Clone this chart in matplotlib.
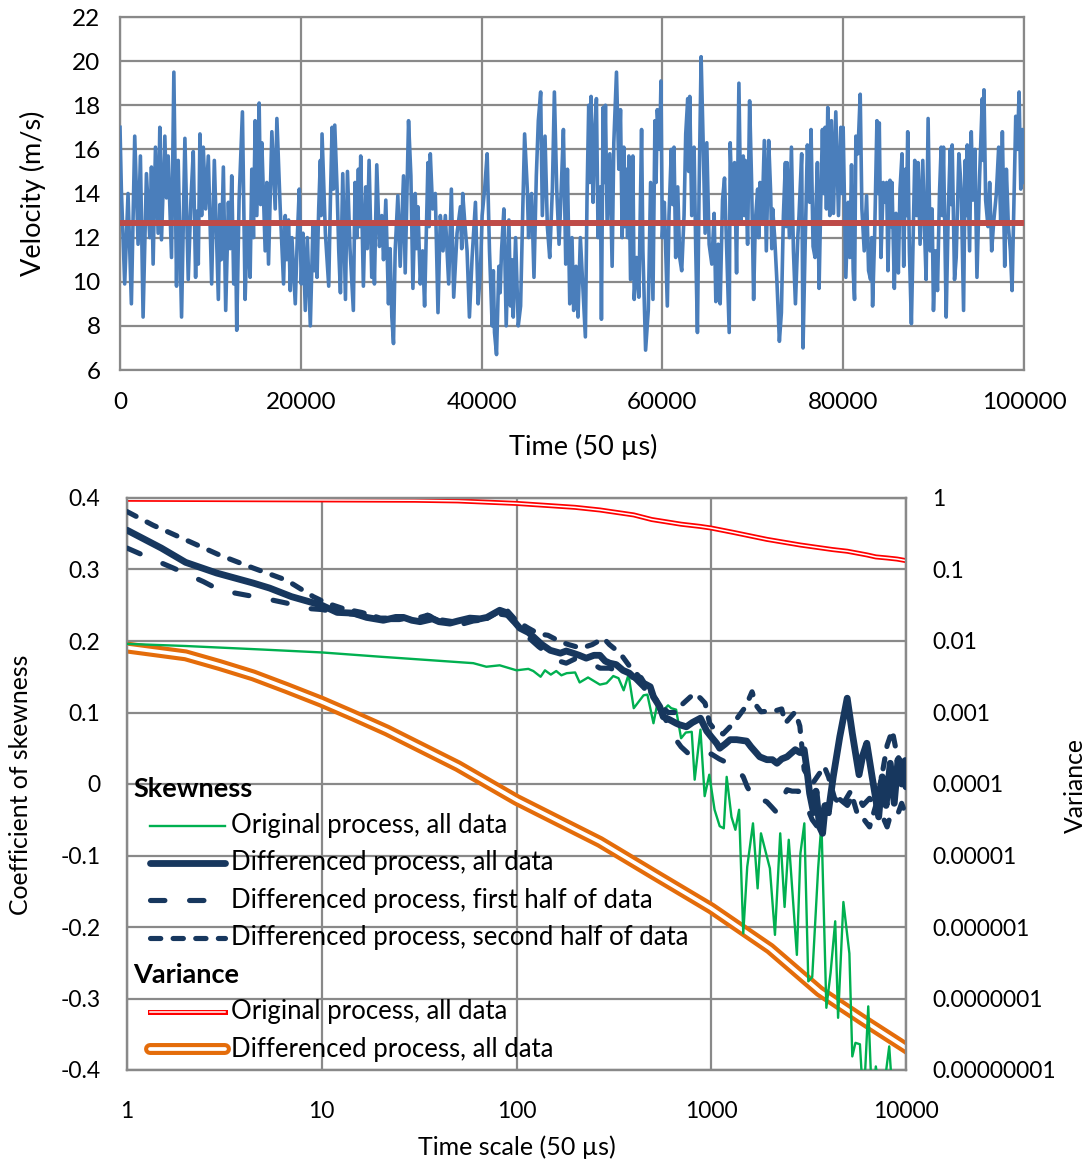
import numpy as np
import matplotlib
matplotlib.use('Agg')
import matplotlib.pyplot as plt
from matplotlib.lines import Line2D
import matplotlib.patheffects as pe

plt.rcParams['font.family'] = ['Lato', 'DejaVu Sans']

# ---------------- top chart data: (time, velocity) ----------------
velocity_q1 = [(0,17.0),(149,14.2),(519,9.9),(889,14.0),(1259,9.0),(1629,16.6),(1999,11.7),(2258,15.7),(2554,8.4),(2924,14.9),(3294,12.0),(3479,15.2),(3664,10.8),(3923,16.1),(4219,12.2),(4404,17.0),(4589,11.9),(4959,16.6),(5144,13.8),(5329,15.7),(5699,11.1),(5958,19.5),(6254,9.8),(6439,15.5),(6809,8.4),(7179,16.5),(7549,10.1),(7845,13.7),(8104,15.9),(8363,10.2),(8510,13.2),(8659,10.8),(8844,16.7),(9029,13.0),(9214,16.1),(9473,13.3),(9769,15.7),(10139,9.9),(10435,15.5),(10879,9.2),(11050,13.5),(11200,11.0),(11434,15.2),(11693,8.7),(11989,13.6),(12180,11.5),(12359,14.8),(12581,9.9),(12766,12.7),(12914,7.8),(13173,13.7),(13543,17.7),(13839,9.2),(14098,12.7),(14394,10.2),(14579,15.1),(14764,12.0),(14949,17.3),(15134,13.0),(15393,18.1),(15550,13.5),(15689,16.3),(16059,11.4),(16244,14.5),(16429,10.8),(16799,16.8),(17169,13.3),(17354,17.4),(17724,13.3),(18094,9.9),(18279,13.0),(18450,11.0),(18650,12.8),(18834,9.6),(19019,12.0),(19389,9.0),(19611,12.0),(19833,14.2),(20055,9.9),(20240,12.2),(20499,8.7),(20721,12.0),(21054,8.0),(21350,12.7),(21500,10.5),(21650,12.5),(21794,10.2),(21979,13.3),(22164,15.5),(22250,13.0),(22349,16.7),(22719,12.2),(23089,9.8),(23274,13.7),(23459,17.0),(23607,14.2),(23755,17.1),(24014,14.2),(24199,11.4),(24384,9.5),(24643,14.9),(24939,9.2),(25161,15.0)]
velocity_q2 = [(25444,11.5),(25814,8.7),(25999,14.5),(26184,12.0),(26369,15.1),(26500,12.5),(26628,15.7),(26924,9.8),(27183,14.3),(27350,11.5),(27553,15.5),(27849,10.2),(28000,12.5),(28145,9.9),(28404,15.3),(28700,11.6),(28959,13.0),(29150,11.0),(29403,13.7),(29699,9.0),(29880,11.5),(30069,8.4),(30254,7.2),(30439,11.4),(30735,13.9),(30994,10.7),(31364,14.8),(31549,10.4),(31919,17.3),(32178,14.8),(32400,9.7),(32659,14.0),(32800,11.5),(32955,13.4),(33214,9.9),(33473,11.4),(33695,8.9),(34065,15.4),(34200,12.5),(34324,15.8),(34583,13.3),(34879,14.0),(35175,8.6),(35434,13.0),(35730,11.4),(35989,13.0),(36359,9.9),(36655,14.2),(36914,9.3),(37284,12.2),(37654,13.4),(37800,11.5),(37913,14.0),(38135,12.7),(38394,11.4),(38653,8.4),(38949,11.1),(39319,13.6),(39615,9.0),(39874,10.5),(40059,13.0),(40355,14.3),(40614,15.8),(40873,11.4),(41169,8.0),(41300,10.5),(41428,7.7),(41650,6.7),(41909,10.7),(42050,9.5),(42205,11.4),(42464,13.3),(42723,8.0),(43019,12.8),(43204,8.9),(43350,11.0),(43500,8.4),(43759,12.0),(44055,8.0),(44314,8.9),(44573,13.6),(44758,16.7),(45054,14.2),(45200,12.0),(45350,13.7),(45535,14.0),(45794,10.2),(46053,14.8),(46275,17.3),(46534,18.6),(46719,13.0),(47015,16.6),(47274,12.5),(47533,11.1),(47829,14.2),(48051,18.6),(48310,14.2),(48569,11.7),(48791,14.0),(49050,16.9),(49309,10.8),(49494,15.1),(49753,9.0)]
velocity_q3 = [(50000,12.0),(50185,8.7),(50444,10.7),(50666,8.4),(50925,12.0),(51184,9.9),(51480,7.5),(51665,13.9),(51850,18.0),(51980,14.5),(52109,18.4),(52331,13.6),(52516,16.7),(52701,18.3),(52886,12.0),(53145,14.3),(53256,8.3),(53441,17.9),(53570,14.5),(53700,18.0),(53885,12.7),(54181,15.8),(54440,10.7),(54625,16.3),(54921,19.5),(55180,15.1),(55365,17.8),(55550,12.0),(55735,16.1),(55850,12.5),(55994,15.1),(56150,12.0),(56290,15.7),(56475,10.1),(56734,15.7),(56882,9.2),(57141,11.1),(57400,9.3),(57696,16.9),(57844,11.4),(58140,6.9),(58436,8.7),(58695,14.5),(58954,9.2),(59176,17.3),(59300,14.5),(59435,17.8),(59694,16.0),(59842,19.1),(59990,12.0),(60212,13.6),(60545,8.9),(60730,13.0),(60989,16.0),(61140,13.5),(61285,16.1),(61470,11.1),(61692,14.3),(61914,11.1),(62136,10.5),(62395,13.0),(62580,16.7),(62802,18.3),(62910,15.0),(63024,18.4),(63246,13.0),(63505,16.1),(63690,11.4),(63875,7.7),(64060,14.2),(64282,20.2),(64504,16.4),(64726,12.2),(64911,16.3),(65170,11.7),(65466,10.8),(65725,13.1),(65910,9.1),(66169,11.7),(66391,9.0),(66650,13.7),(66872,14.7),(67094,11.7),(67390,7.7),(67501,16.3),(67760,12.7),(67982,15.4),(68204,10.4),(68463,19.0),(68685,12.7),(68944,15.7),(69050,13.0),(69166,15.5),(69425,11.7),(69647,18.2),(69869,14.5),(70091,9.2),(70276,12.7),(70535,14.2),(70650,12.0),(70794,14.5),(71016,12.7),(71275,16.4),(71497,11.4),(71756,16.4),(71978,14.0),(72100,11.5),(72200,13.3),(72422,12.0),(72681,9.9),(72940,7.3),(73162,8.6),(73384,13.0),(73606,15.4),(73700,12.5),(73791,15.4),(74050,12.0),(74272,16.1),(74494,11.4),(74716,9.0),(74975,12.0)]
velocity_q4 = [(75111,13.0),(75407,15.8),(75555,7.0),(75777,11.4),(76036,16.2),(76295,13.6),(76443,16.9),(76665,11.6),(76887,11.1),(77000,13.5),(77146,15.4),(77331,9.7),(77516,13.6),(77701,16.9),(77850,14.0),(77997,17.0),(78145,13.3),(78293,17.9),(78515,13.0),(78700,17.3),(78922,13.1),(79181,17.7),(79477,13.0),(79736,17.0),(79860,14.0),(79995,17.0),(80291,10.2),(80550,13.6),(80735,11.1),(80920,15.3),(81105,10.5),(81253,9.2),(81401,16.6),(81623,15.8),(81882,18.5),(82067,13.3),(82326,11.4),(82585,13.9),(82807,10.5),(83029,10.1),(83150,12.0),(83251,8.9),(83473,12.0),(83732,17.3),(83860,14.0),(83991,17.2),(84176,11.1),(84435,14.5),(84657,13.6),(84805,14.5),(84953,10.5),(85175,14.6),(85300,12.5),(85397,14.5),(85656,9.7),(85841,13.1),(86100,10.4),(86285,14.2),(86507,15.8),(86692,10.7),(86877,15.1),(87000,13.0),(87136,16.8),(87321,11.4),(87543,8.1),(87691,11.0),(87913,15.5),(88135,13.0),(88283,15.4),(88505,11.7),(88801,15.5),(89023,12.0),(89171,10.1),(89393,17.4),(89615,11.4),(89837,13.3),(89985,8.7),(90207,11.4),(90429,9.6),(90651,14.0),(90836,16.1),(90960,13.0),(91095,16.1),(91391,8.4),(91613,13.0),(91835,16.0),(91950,13.5),(92057,16.2),(92316,10.1),(92501,11.1),(92797,15.8),(93056,14.2),(93315,8.7),(93500,15.5),(93600,13.0),(93722,16.2),(93981,11.4),(94166,16.8),(94351,13.7),(94573,16.0),(94795,10.2),(95091,14.8),(95387,18.3),(95480,15.5),(95572,18.7),(95757,13.7),(96016,12.5),(96201,14.5),(96423,11.4),(96645,12.7),(96941,14.0),(97200,16.1),(97422,12.7),(97607,16.8),(97866,10.7),(98051,15.1),(98273,12.5),(98495,11.4),(98680,9.6),(98902,14.0),(99087,17.5),(99272,16.0),(99457,18.6),(99642,14.2),(99827,16.9),(100000,14.5)]
mean_velocity = 12.65

top_xticks = [0, 20000, 40000, 60000, 80000, 100000]
top_yticks = [6, 8, 10, 12, 14, 16, 18, 20, 22]

# ---------------- bottom chart data: (time scale, value) ----------------
skew_original = [(1,0.196),(2,0.193),(5,0.188),(10,0.184),(20,0.178),(47,0.171),(60,0.169),(70,0.164),(82,0.166),(100,0.159),(115,0.161),(122,0.158),(133,0.150),(140,0.159),(150,0.153),(160,0.158),(170,0.152),(181,0.155),(200,0.156),(211,0.142),(233,0.149),(268,0.139),(290,0.141),(314,0.151),(334,0.148),(355,0.131),(376,0.153),(400,0.106),(449,0.124),(470,0.125),(505,0.085),(530,0.114),(567,0.103),(600,0.110),(623,0.106),(660,0.104),(700,0.064),(740,0.072),(794,0.073),(822,0.006),(880,0.076),(925,-0.017),(977,0.013),(1040,-0.036),(1105,-0.059),(1160,-0.062),(1200,0.010),(1270,-0.046),(1330,-0.064),(1390,-0.036),(1460,-0.209),(1530,-0.116),(1638,-0.055),(1730,-0.146),(1800,-0.069),(2000,-0.118),(2124,-0.211),(2260,-0.069),(2380,-0.172),(2500,-0.078),(2752,-0.239),(2870,-0.097),(3006,-0.055),(3150,-0.276),(3300,-0.270),(3539,-0.118),(3680,-0.055),(3900,-0.313),(4100,-0.264),(4330,-0.192),(4480,-0.327),(4770,-0.165),(5120,-0.237),(5300,-0.381),(5500,-0.362),(5800,-0.364),(6050,-0.450),(6400,-0.311),(6700,-0.450),(7000,-0.395),(7500,-0.450),(8200,-0.367),(8600,-0.450),(10000,-0.450)]
skew_diff_all = [(1,0.355),(1.5,0.330),(2.0,0.310),(2.89,0.295),(4.45,0.281),(5.4,0.274),(7,0.262),(10,0.250),(12,0.240),(14.5,0.239),(17,0.233),(20.7,0.229),(24,0.233),(26.3,0.233),(29,0.229),(32,0.227),(37,0.231),(40,0.227),(45.5,0.225),(50,0.228),(57.6,0.232),(65,0.231),(70.5,0.233),(76,0.238),(82,0.243),(88,0.240),(96,0.229),(104,0.218),(115,0.212),(122,0.206),(135,0.195),(149,0.187),(168,0.183),(180,0.186),(195,0.183),(210,0.180),(228,0.176),(250,0.180),(268,0.180),(285,0.172),(301,0.169),(325,0.167),(352,0.159),(380,0.155),(397,0.150),(433,0.148),(449,0.141),(486,0.136),(505,0.122),(544,0.108),(567,0.094),(610,0.090),(660,0.085),(685,0.083),(745,0.080),(800,0.086),(880,0.092),(948,0.074),(1000,0.066),(1065,0.057),(1105,0.050),(1180,0.056),(1250,0.062),(1350,0.062),(1520,0.060),(1600,0.052),(1710,0.043),(1774,0.038),(1930,0.034),(2060,0.034),(2175,0.029),(2300,0.035),(2450,0.038),(2700,0.048),(2850,0.044),(3000,0.048),(3100,0.020),(3200,-0.013),(3350,-0.040),(3450,-0.010),(3600,-0.060),(3730,-0.069),(3850,-0.030),(3990,-0.040),(4230,0.010),(4570,0.066),(4990,0.120),(5300,0.071),(5740,0.013),(6000,0.040),(6290,0.057),(6700,0.010),(7240,-0.046),(7550,0.010),(7900,-0.030),(8300,0.029),(8700,-0.027),(9100,0.034),(9500,0.000),(9800,0.029),(10000,-0.004)]
skew_diff_first = [(1,0.330),(1.26,0.318),(1.73,0.302),(2.47,0.283),(3.0,0.271),(4.12,0.264),(5,0.260),(6.6,0.253),(8,0.246),(10,0.244),(12,0.240),(15,0.237),(20,0.230),(25,0.230),(30,0.234),(35,0.236),(40,0.228),(50,0.222),(60,0.228),(70,0.230),(80,0.238),(90,0.236),(100,0.222),(115,0.205),(130,0.192),(149,0.180),(165,0.172),(180,0.169),(200,0.175),(225,0.171),(250,0.167),(268,0.162),(300,0.162),(340,0.158),(397,0.150),(450,0.135),(505,0.118),(567,0.098),(630,0.069),(700,0.052),(760,0.043),(880,0.038),(950,0.040),(1000,0.042),(1100,0.035),(1200,0.030),(1320,0.025),(1460,0.010),(1530,-0.004),(1670,-0.022),(1740,-0.019),(1930,-0.025),(2040,-0.032),(2170,-0.040),(2300,-0.022),(2450,-0.008),(2600,-0.010),(2800,-0.010),(2950,-0.018),(3100,-0.032),(3300,-0.050),(3600,-0.064),(3800,-0.030),(4100,-0.045),(4500,-0.020),(5000,-0.030),(5500,-0.010),(6000,-0.030),(6500,-0.020),(7000,-0.032),(7600,-0.046),(8000,-0.060),(8500,-0.035),(9000,-0.045),(9500,-0.027),(10000,-0.044)]
skew_diff_second = [(1,0.381),(1.36,0.362),(2.02,0.341),(3,0.320),(4.45,0.302),(6.6,0.285),(9.05,0.262),(10.6,0.253),(13,0.245),(16,0.240),(20,0.232),(25,0.232),(30,0.231),(35,0.236),(40,0.230),(50,0.226),(60,0.230),(70,0.231),(80,0.240),(90,0.242),(100,0.228),(115,0.218),(130,0.210),(145,0.208),(168,0.199),(185,0.195),(215,0.190),(245,0.195),(280,0.204),(300,0.195),(340,0.183),(380,0.165),(420,0.152),(470,0.135),(530,0.115),(600,0.100),(650,0.100),(700,0.110),(820,0.127),(880,0.120),(930,0.113),(980,0.085),(1050,0.075),(1150,0.070),(1300,0.085),(1500,0.108),(1620,0.129),(1700,0.110),(1800,0.101),(2170,0.103),(2300,0.105),(2400,0.085),(2700,0.101),(2850,0.081),(3000,0.020),(3300,0.000),(3600,0.015),(3800,0.025),(4000,0.010),(4300,-0.020),(4700,-0.030),(5200,-0.010),(5600,-0.040),(6100,-0.050),(6500,-0.060),(7000,-0.030),(7500,0.010),(8000,0.054),(8500,0.075),(9000,0.040),(9500,0.030),(10000,0.035)]
var_original = [(1,0.96),(10,0.94),(30,0.93),(50,0.91),(100,0.84),(200,0.74),(268,0.68),(400,0.58),(495,0.50),(600,0.46),(700,0.43),(880,0.40),(1000,0.38),(1300,0.33),(1930,0.264),(2870,0.22),(4200,0.19),(5000,0.18),(6300,0.16),(7000,0.15),(8000,0.145),(9000,0.14),(10000,0.133)]
var_diff = [(1,8.1e-3),(2,6.3e-3),(3,4.6e-3),(4.45,3.3e-3),(6.6,2.2e-3),(10,1.41e-3),(14.5,9.1e-4),(21.6,5.6e-4),(50,1.78e-4),(100,6.0e-5),(268,1.55e-5),(500,5.6e-6),(1000,1.82e-6),(2000,5.0e-7),(3600,1.26e-7),(6000,5.0e-8),(10000,2.04e-8)]

bottom_xticks = [1, 10, 100, 1000, 10000]
skew_ticks = [0.4, 0.3, 0.2, 0.1, 0.0, -0.1, -0.2, -0.3, -0.4]
skew_tick_labels = ['0.4', '0.3', '0.2', '0.1', '0', '-0.1', '-0.2', '-0.3', '-0.4']
var_ticks = [1, 1e-1, 1e-2, 1e-3, 1e-4, 1e-5, 1e-6, 1e-7, 1e-8]
var_tick_labels = ['1', '0.1', '0.01', '0.001', '0.0001', '0.00001', '0.000001', '0.0000001', '0.00000001']

legend_skew = ['Original process, all data', 'Differenced process, all data',
               'Differenced process, first half of data', 'Differenced process, second half of data']
legend_var = ['Original process, all data', 'Differenced process, all data']

# ---------------- styles ----------------
GRID = '#898989'
BLUE = '#4A7EBB'
MEANRED = '#BE4B48'
GREEN = '#00B050'
NAVY = '#17375E'
RED = '#FF0000'
ORANGE = '#E46C0A'
TICK_FS = 16.5
LAB_FS = 18.0
LEG_FS = 18.5
HEAD_FS = 19.5


def split(pairs):
    a = np.array(pairs, dtype=float)
    return a[:, 0], a[:, 1]


fig = plt.figure(figsize=(10.92, 11.61), dpi=100)

# ================= top chart =================
ax = fig.add_axes([120/1092, 1-370/1161, 904/1092, 353/1161])
t_all, v_all = split(velocity_q1 + velocity_q2 + velocity_q3 + velocity_q4)
ax.plot(t_all, v_all, color=BLUE, lw=2.6, solid_joinstyle='round', zorder=3)
ax.axhline(mean_velocity, color=MEANRED, lw=4.3, zorder=4)
ax.set_xlim(0, 100000)
ax.set_ylim(6, 22)
ax.set_xticks(top_xticks)
ax.set_yticks(top_yticks)
ax.set_xticklabels([str(v) for v in top_xticks])
ax.grid(True, color=GRID, lw=1.6)
ax.set_axisbelow(True)
for s in ax.spines.values():
    s.set_color(GRID)
    s.set_linewidth(1.6)
ax.tick_params(length=0, labelsize=17.5, pad=14)
ax.tick_params(axis='x', pad=16)
ax.set_xlabel('Time (50 µs)', fontsize=19.5)
ax.set_ylabel('Velocity (m/s)', fontsize=19.5)
ax.xaxis.set_label_coords(0.512, -0.218)
ax.xaxis.label.set_va('center')
ax.yaxis.set_label_coords(-0.096, 0.501)
ax.yaxis.label.set_va('center')

# ================= bottom chart =================
axs = fig.add_axes([127/1092, 1-1070/1161, 779/1092, 572/1161])
axv = axs.twinx()
axs.set_zorder(3)
axv.set_zorder(2)
axs.patch.set_visible(False)

axs.set_xscale('log')
axs.set_xlim(1, 10000)
axs.set_ylim(-0.4, 0.4)
axv.set_yscale('log')
axv.set_ylim(1e-8, 1)

# grid drawn on the lower (variance) axes so that all series lie above it
axv.xaxis.set_visible(True)
axv.grid(True, which='major', axis='both', color=GRID, lw=1.6)
axv.tick_params(axis='x', which='both', length=0, labelbottom=False, labeltop=False)
axv.set_yticks(var_ticks)
axv.set_yticklabels(var_tick_labels)
axv.yaxis.set_minor_locator(matplotlib.ticker.NullLocator())
axv.tick_params(axis='y', length=0, labelsize=TICK_FS, pad=19)

# variance series (double lines)
tv, vv = split(var_original)
axv.plot(tv, vv, color='white', lw=1.1, solid_joinstyle='round',
         path_effects=[pe.Stroke(linewidth=3.6, foreground=RED), pe.Normal()])
td, vd = split(var_diff)
axv.plot(td, vd, color='white', lw=2.7, solid_joinstyle='round',
         path_effects=[pe.Stroke(linewidth=8.6, foreground=ORANGE), pe.Normal()])

# skewness series
t1, s1 = split(skew_original)
axs.plot(t1, s1, color=GREEN, lw=1.7, zorder=3)
t2, s2 = split(skew_diff_all)
axs.plot(t2, s2, color=NAVY, lw=4.9, solid_joinstyle='round', solid_capstyle='round', zorder=4)
t3, s3 = split(skew_diff_first)
axs.plot(t3, s3, color=NAVY, lw=3.7, linestyle=(0, (2.8, 4.8)), dash_capstyle='round', zorder=4)
t4, s4 = split(skew_diff_second)
axs.plot(t4, s4, color=NAVY, lw=3.7, linestyle=(0, (2.0, 2.4)), dash_capstyle='round', zorder=4)

axs.set_xticks(bottom_xticks)
axs.set_xticklabels([str(v) for v in bottom_xticks])
axs.xaxis.set_minor_locator(matplotlib.ticker.NullLocator())
axs.set_yticks(skew_ticks)
axs.set_yticklabels(skew_tick_labels)
axs.tick_params(length=0, labelsize=TICK_FS, pad=19)
axs.tick_params(axis='x', pad=22)
for a in (axs, axv):
    for s in a.spines.values():
        s.set_color(GRID)
        s.set_linewidth(1.6)

axs.set_xlabel('Time scale (50 µs)', fontsize=LAB_FS)
axs.xaxis.set_label_coords(0.5006, -0.1346)
axs.xaxis.label.set_va('center')
axs.set_ylabel('Coefficient of skewness', fontsize=17.8)
axs.yaxis.set_label_coords(-0.137, 0.498)
axs.yaxis.label.set_va('center')
axv.set_ylabel('Variance', fontsize=17.8)
axv.yaxis.set_label_coords(1.217, 0.498)
axv.yaxis.label.set_va('center')

# ---------------- legend (drawn inside the plot, no frame) ----------------
tr = axs.transAxes
hx0, hx1, tx = 0.0295, 0.126, 0.1335
rows = [0.4266, 0.3619, 0.2972, 0.2308, 0.1014, 0.0367]
axs.text(0.0077, 0.491, 'Skewness', transform=tr, fontsize=HEAD_FS, fontweight='bold', va='center', ha='left')
axs.text(0.0077, 0.1661, 'Variance', transform=tr, fontsize=HEAD_FS, fontweight='bold', va='center', ha='left')
handle_styles = [
    dict(color=GREEN, lw=1.7),
    dict(color=NAVY, lw=4.9, solid_capstyle='round'),
    dict(color=NAVY, lw=3.7, linestyle=(0, (2.8, 4.8)), dash_capstyle='round'),
    dict(color=NAVY, lw=3.7, linestyle=(0, (2.0, 2.4)), dash_capstyle='round'),
    dict(color='white', lw=1.1, path_effects=[pe.Stroke(linewidth=3.6, foreground=RED), pe.Normal()]),
    dict(color='white', lw=2.7, solid_capstyle='round',
         path_effects=[pe.Stroke(linewidth=8.6, foreground=ORANGE, capstyle='round'), pe.Normal()]),
]
labels = legend_skew + legend_var
for y, st, lab in zip(rows, handle_styles, labels):
    axs.add_line(Line2D([hx0, hx1], [y, y], transform=tr, clip_on=False, zorder=6, **st))
    axs.text(tx, y, lab, transform=tr, fontsize=LEG_FS, va='center', ha='left', zorder=7)

fig.savefig('out.png', dpi=100, facecolor='white')
